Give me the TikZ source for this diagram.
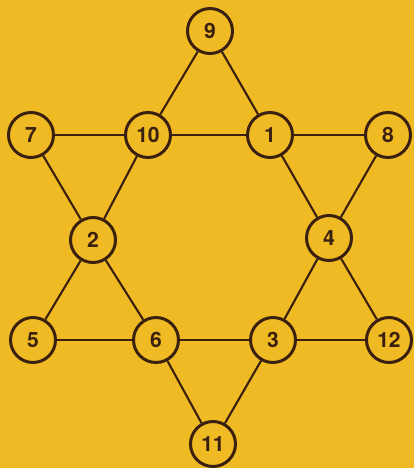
\documentclass[tikz,border=0pt]{standalone}
\usepackage{fontspec}
\setsansfont{TeX Gyre Heros}
\usepackage{tikz}
\usetikzlibrary{backgrounds}
\definecolor{starbg}{RGB}{240,186,36}
\definecolor{inkc}{RGB}{58,32,14}

\begin{document}
\begin{tikzpicture}[x=0.02cm, y=-0.02cm,
    every node/.style={font=\sffamily\bfseries\fontsize{12}{14}\selectfont, text=inkc},
    spot/.style={circle, draw=inkc, line width=1.7pt, fill=starbg, minimum size=0.9cm, inner sep=0pt},
    edge/.style={draw=inkc, line width=1.2pt}]
  \useasboundingbox (0,0) rectangle (414,468);
  % outer points
  \node[spot] (n9)  at (210,31)  {9};
  \node[spot] (n7)  at (31,135)  {7};
  \node[spot] (n8)  at (388,135) {8};
  \node[spot] (n5)  at (33,340)  {5};
  \node[spot] (n12) at (389,340) {12};
  \node[spot] (n11) at (213,444) {11};
  % inner hexagon
  \node[spot] (n10) at (148,135) {10};
  \node[spot] (n1)  at (270,135) {1};
  \node[spot] (n2)  at (93,240)  {2};
  \node[spot] (n4)  at (329,238) {4};
  \node[spot] (n6)  at (156,340) {6};
  \node[spot] (n3)  at (273,340) {3};
  % connectors
  \begin{scope}[on background layer]
    \fill[starbg] (0,0) rectangle (414,468);
    \foreach \a/\b in {9/10,10/2,2/5,9/1,1/4,4/12,5/6,6/3,3/12,
                       7/10,10/1,1/8,7/2,2/6,6/11,8/4,4/3,3/11}
      \draw[edge] (n\a) -- (n\b);
  \end{scope}
\end{tikzpicture}
\end{document}
